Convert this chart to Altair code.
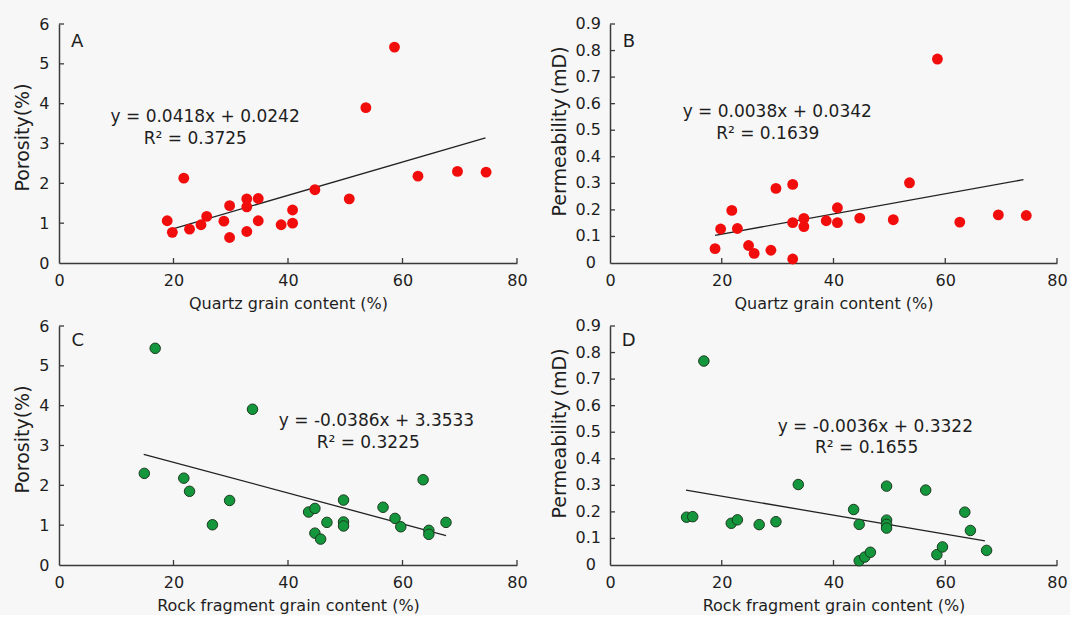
import altair as alt
import pandas as pd

# ---------------- data ----------------
# Panel A: quartz grain content vs porosity
qa_x = [18.9, 19.8, 21.8, 22.8, 24.8, 25.8, 28.8, 29.8, 29.8, 32.8, 32.8, 32.8,
        34.8, 34.8, 38.8, 40.8, 40.8, 44.7, 50.7, 53.6, 58.6, 62.7, 69.6, 74.6]
qa_y = [1.06, 0.77, 2.13, 0.85, 0.96, 1.17, 1.05, 1.44, 0.64, 1.61, 1.41, 0.79,
        1.62, 1.06, 0.96, 1.33, 1.00, 1.84, 1.61, 3.90, 5.42, 2.18, 2.30, 2.28]
# Panel B: quartz grain content vs permeability
qb_x = [18.8, 19.8, 21.8, 22.8, 24.8, 25.8, 28.8, 29.7, 32.7, 32.7, 32.7, 34.7,
        34.7, 38.7, 40.7, 40.7, 44.7, 50.7, 53.6, 58.6, 62.6, 69.5, 74.5]
qb_y = [0.054, 0.128, 0.198, 0.130, 0.066, 0.036, 0.048, 0.281, 0.296, 0.152, 0.015, 0.168,
        0.137, 0.159, 0.208, 0.152, 0.169, 0.163, 0.302, 0.768, 0.154, 0.181, 0.179]
# Panel C: rock fragment grain content vs porosity
rc_x = [14.9, 16.8, 21.8, 22.8, 26.8, 29.8, 33.8, 43.6, 44.7, 44.7, 45.7, 46.8,
        49.7, 49.7, 49.7, 56.6, 58.7, 59.7, 63.6, 64.6, 64.6, 67.6]
rc_y = [2.30, 5.44, 2.18, 1.85, 1.01, 1.62, 3.91, 1.33, 1.42, 0.80, 0.65, 1.07,
        1.63, 1.08, 0.98, 1.45, 1.17, 0.96, 2.14, 0.87, 0.77, 1.07]
# Panel D: rock fragment grain content vs permeability
rd_x = [13.7, 14.8, 16.8, 21.7, 22.8, 26.7, 29.7, 33.7, 43.6, 44.6, 44.6, 45.6,
        46.6, 49.5, 49.5, 49.5, 49.5, 56.5, 58.5, 59.5, 63.5, 64.5, 67.4]
rd_y = [0.180, 0.182, 0.768, 0.157, 0.170, 0.152, 0.163, 0.303, 0.209, 0.153, 0.016, 0.030,
        0.048, 0.297, 0.169, 0.153, 0.139, 0.282, 0.039, 0.068, 0.199, 0.130, 0.055]

# fitted trend lines (end points as drawn)
fa_x, fa_y = [19.0, 74.5], [0.82, 3.14]
fb_x, fb_y = [18.8, 74.0], [0.104, 0.314]
fc_x, fc_y = [14.8, 67.6], [2.78, 0.74]
fd_x, fd_y = [13.6, 67.1], [0.282, 0.091]

# annotation texts
eq_a, r2_a = "y = 0.0418x + 0.0242", "R\u00b2 = 0.3725"
eq_b, r2_b = "y = 0.0038x + 0.0342", "R\u00b2 = 0.1639"
eq_c, r2_c = "y = -0.0386x + 3.3533", "R\u00b2 = 0.3225"
eq_d, r2_d = "y = -0.0036x + 0.3322", "R\u00b2 = 0.1655"

# tick values and labels
x_ticks = [0, 20, 40, 60, 80]
por_ticks = [0, 1, 2, 3, 4, 5, 6]
perm_ticks = [0, 0.1, 0.2, 0.3, 0.4, 0.5, 0.6, 0.7, 0.8, 0.9]
perm_labels = ["0", "0.1", "0.2", "0.3", "0.4", "0.5", "0.6", "0.7", "0.8", "0.9"]

x_title_q = "Quartz  grain  content (%)"
x_title_r = "Rock fragment  grain  content (%)"
y_title_por = "Porosity(%)"
y_title_perm = "Permeability\u2009(mD)"

FONT = "DejaVu Sans"
INK = "#1e1e1e"
AXIS = "#3a3a3a"


def panel(xs, ys, fx, fy, letter, eq, r2, pos, ymax, yticks, xtitle, ytitle,
          width, height, green, perm):
    xscale = alt.Scale(domain=[0, 80], nice=False, zero=False)
    yscale = alt.Scale(domain=[0, ymax], nice=False, zero=False)
    xaxis = alt.Axis(values=x_ticks, format="d", tickSize=0, grid=False,
                     domainColor=AXIS, domainWidth=1.5,
                     labelFont=FONT, labelFontSize=16, labelColor=INK,
                     labelPadding=9, labelFlush=False,
                     title=xtitle, titleFont=FONT, titleFontSize=16,
                     titleFontWeight="normal", titleColor=INK, titlePadding=7)
    if perm:
        yaxis = alt.Axis(values=yticks, labels=False, tickSize=0, grid=False,
                         domainColor=AXIS, domainWidth=1.5,
                         title=ytitle, titleFont=FONT, titleFontSize=19,
                         titleFontWeight="normal", titleColor=INK,
                         titlePadding=40, titleY=107)
    else:
        yaxis = alt.Axis(values=yticks, format="d", tickSize=0, grid=False,
                         domainColor=AXIS, domainWidth=1.5,
                         labelFont=FONT, labelFontSize=16, labelColor=INK,
                         labelPadding=10, labelFlush=False,
                         title=ytitle, titleFont=FONT, titleFontSize=19,
                         titleFontWeight="normal", titleColor=INK,
                         titlePadding=6, titleY=113)

    def X(f):
        return alt.X(f, scale=xscale, axis=xaxis)

    def Y(f):
        return alt.Y(f, scale=yscale, axis=yaxis)

    pts_df = pd.DataFrame({"x": xs, "y": ys})
    base_pts = alt.Chart(pts_df)
    if green:
        pts = base_pts.mark_point(filled=True, fill="#13963c", stroke="#1c3a1f",
                                  strokeWidth=1, size=110, opacity=1)
    else:
        pts = base_pts.mark_circle(color="#f20d0d", size=118, opacity=1)
    pts = pts.encode(x=X("x:Q"), y=Y("y:Q"))

    fit = alt.Chart(pd.DataFrame({"x": fx, "y": fy})).mark_line(
        color="#222222", strokeWidth=1.3).encode(x=X("x:Q"), y=Y("y:Q"))

    yt = alt.Chart(pd.DataFrame({"v": yticks[1:]})).mark_rule(
        color=AXIS, strokeWidth=1.3).encode(
        y=Y("v:Q"), x=alt.value(0), x2=alt.value(5))
    xt = alt.Chart(pd.DataFrame({"v": x_ticks[1:]})).mark_rule(
        color=AXIS, strokeWidth=1.3).encode(
        x=X("v:Q"), y=alt.value(height), y2=alt.value(height - 5))

    txt_df = pd.DataFrame({"x": [pos[0], pos[2], pos[4]],
                           "y": [pos[1], pos[3], pos[5]],
                           "t": [letter, eq, r2],
                           "s": [18, 17, 17]})
    txt = alt.Chart(txt_df).mark_text(align="left", baseline="alphabetic",
                                      font=FONT, color=INK).encode(
        x=X("x:Q"), y=Y("y:Q"),
        text="t:N",
        size=alt.Size("s:Q", scale=None, legend=None))

    layers = [fit, yt, xt, pts, txt]
    if perm:
        lab_df = pd.DataFrame({"v": perm_ticks, "t": perm_labels})
        zero_lab = alt.Chart(lab_df).transform_filter("datum.v == 0").mark_text(
            align="right", baseline="middle", font=FONT, fontSize=16, color=INK
        ).encode(y=Y("v:Q"), x=alt.value(-14), text="t:N")
        dec_lab = alt.Chart(lab_df).transform_filter("datum.v > 0").mark_text(
            align="right", baseline="middle", font=FONT, fontSize=16, color=INK
        ).encode(y=Y("v:Q"), x=alt.value(-9), text="t:N")
        layers += [zero_lab, dec_lab]

    return alt.layer(*layers).properties(width=width, height=height)


# label positions in data units: letter (x, y), equation (x, y), R2 (x, y)
pos_a = [2.1, 5.43, 9.0, 3.55, 14.8, 3.00]
pos_b = [2.3, 0.815, 13.0, 0.549, 19.0, 0.466]
pos_c = [2.2, 5.51, 38.4, 3.48, 45.0, 2.94]
pos_d = [2.1, 0.825, 30.0, 0.502, 36.7, 0.421]

pa = panel(qa_x, qa_y, fa_x, fa_y, "A", eq_a, r2_a, pos_a, 6, por_ticks,
           x_title_q, y_title_por, 458, 239, False, False)
pb = panel(qb_x, qb_y, fb_x, fb_y, "B", eq_b, r2_b, pos_b, 0.9, perm_ticks,
           x_title_q, y_title_perm, 447, 239, False, True)
pc = panel(rc_x, rc_y, fc_x, fc_y, "C", eq_c, r2_c, pos_c, 6, por_ticks,
           x_title_r, y_title_por, 458, 239, True, False)
pd_ = panel(rd_x, rd_y, fd_x, fd_y, "D", eq_d, r2_d, pos_d, 0.9, perm_ticks,
            x_title_r, y_title_perm, 447, 239, True, True)

chart = alt.concat(pa, pb, pc, pd_, columns=2,
                   spacing={"row": 63, "column": 93}, bounds="flush").properties(
    padding={"left": 13, "top": 16, "right": 2, "bottom": 2},
    background="#f7f7f7",
).configure_view(stroke=None)

chart.save("out.html", embed_options={"renderer": "svg", "actions": False})
